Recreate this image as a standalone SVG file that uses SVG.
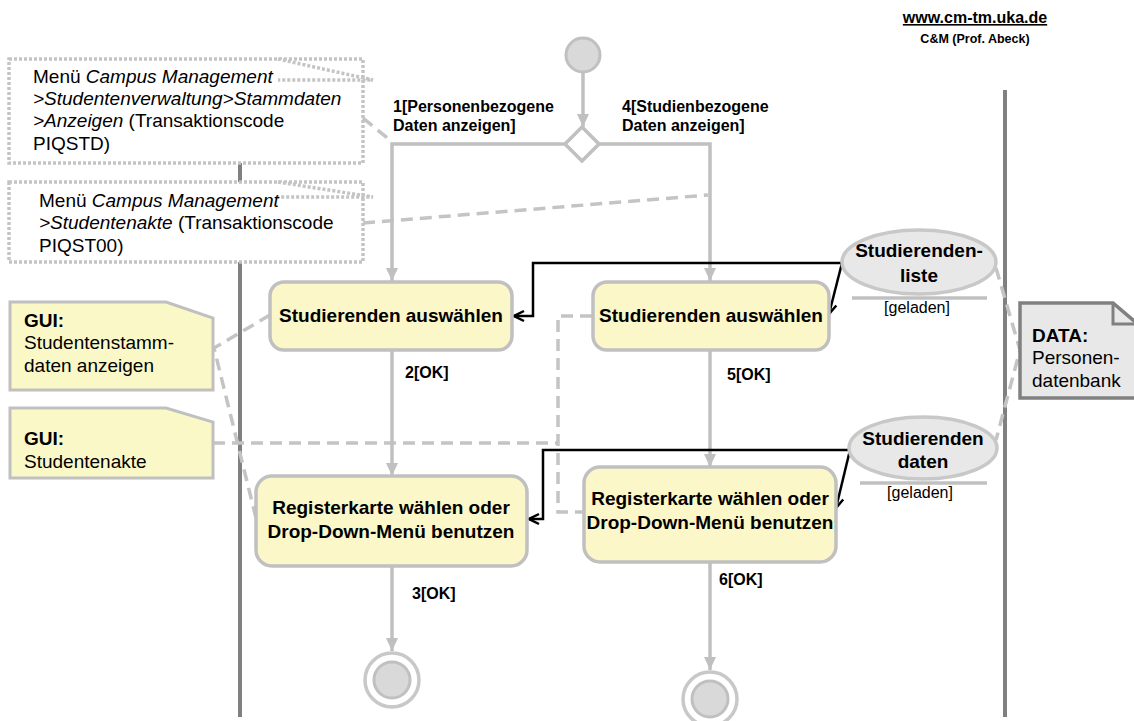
<svg xmlns="http://www.w3.org/2000/svg" width="1134" height="721" viewBox="0 0 1134 721">
<style>
text{font-family:"Liberation Sans",Arial,sans-serif;fill:#000}
.t19{font-size:19px}
.b19{font-size:19px;font-weight:bold}
.b16{font-size:16px;font-weight:bold}
.r16{font-size:16px}
.act{fill:#fbf7c8;stroke:#c0c0c0;stroke-width:3.5}
.note{fill:#fbf8c8;stroke:#c0c0c0;stroke-width:3}
.call{fill:#fff;stroke:#c4c4c4;stroke-width:3.5;stroke-dasharray:3 2}
.flow{fill:none;stroke:#c0c0c0;stroke-width:3.5}
.obj{fill:none;stroke:#000;stroke-width:2.5}
.dash{fill:none;stroke:#c4c4c4;stroke-width:3.5;stroke-dasharray:12 7}
.lane{stroke:#808080;stroke-width:4}
.oval{fill:#e8e8e8;stroke:#c8c8c8;stroke-width:3.5}
</style>
<defs>
<marker id="ga" markerUnits="userSpaceOnUse" markerWidth="14" markerHeight="14" refX="13" refY="7" orient="auto">
<path d="M0,1 L13,7 L0,13 z" fill="#c0c0c0"/>
</marker>
<marker id="ba" markerUnits="userSpaceOnUse" markerWidth="14" markerHeight="14" refX="12" refY="7" orient="auto">
<path d="M2,2 L12,7 L2,12" fill="none" stroke="#000" stroke-width="2.5"/>
</marker>
</defs>

<g id="header">
<text x="975" y="23" text-anchor="middle" text-decoration="underline" style="font-size:16px;font-weight:bold">www.cm-tm.uka.de</text>
<text x="975" y="43" text-anchor="middle" style="font-size:12.5px;font-weight:bold">C&amp;M (Prof. Abeck)</text>
</g>

<g id="swimlanes">
<line class="lane" x1="240" y1="90" x2="240" y2="717"/>
<line class="lane" x1="1005" y1="90" x2="1005" y2="717"/>
</g>

<g id="callout1">
<rect class="call" x="9" y="59" width="354" height="104"/>
<path class="call" d="M278,59 L373,80 L278,80"/>
<text class="t19" x="33" y="83">Menü <tspan font-style="italic">Campus Management</tspan></text>
<text class="t19" x="33" y="105" font-style="italic">&gt;Studentenverwaltung&gt;Stammdaten</text>
<text class="t19" x="33" y="127"><tspan font-style="italic">&gt;Anzeigen</tspan> (Transaktionscode</text>
<text class="t19" x="33" y="150">PIQSTD)</text>
</g>

<g id="callout2">
<rect class="call" x="9" y="182" width="354" height="80"/>
<path class="call" d="M278,182 L373,197 L278,197"/>
<text class="t19" x="39" y="207">Menü <tspan font-style="italic">Campus Management</tspan></text>
<text class="t19" x="39" y="229"><tspan font-style="italic">&gt;Studentenakte</tspan> (Transaktionscode</text>
<text class="t19" x="39" y="252">PIQST00)</text>
</g>

<g id="connectors">
<path class="dash" d="M363,118 L391,141"/>
<path class="dash" d="M363,223 L708,195"/>
<path class="dash" d="M270,315 L214,348 L256,518"/>
<path class="dash" d="M213,443 H558"/>
<path class="dash" d="M592,316 H558 V512 H584"/>
<path class="dash" d="M996,268 L1020,350 L996,440"/>
<path class="flow" d="M583,73 V127" marker-end="url(#ga)"/>
<path class="flow" d="M565,144 H392 V281" marker-end="url(#ga)"/>
<path class="flow" d="M599,144 H710 V281" marker-end="url(#ga)"/>
<path class="flow" d="M392,350 V476" marker-end="url(#ga)"/>
<path class="flow" d="M710,350 V467" marker-end="url(#ga)"/>
<path class="flow" d="M392,566 V651" marker-end="url(#ga)"/>
<path class="flow" d="M710,562 V670" marker-end="url(#ga)"/>
<path class="obj" d="M842,263 H533 V316 H514" marker-end="url(#ba)"/>
<path class="obj" d="M842,263 L829,314" marker-end="url(#ba)"/>
<path class="obj" d="M850,450 H543 V519 H529" marker-end="url(#ba)"/>
<path class="obj" d="M850,450 L836,508" marker-end="url(#ba)"/>
<text class="b16" x="393" y="112">1[Personenbezogene</text>
<text class="b16" x="393" y="131">Daten anzeigen]</text>
<text class="b16" x="622" y="112">4[Studienbezogene</text>
<text class="b16" x="622" y="131">Daten anzeigen]</text>
<text class="b16" x="405" y="378">2[OK]</text>
<text class="b16" x="727" y="380">5[OK]</text>
<text class="b16" x="412" y="599">3[OK]</text>
<text class="b16" x="719" y="585">6[OK]</text>
</g>

<g id="start">
<circle cx="583" cy="55" r="17" fill="#d9d9d9" stroke="#c0c0c0" stroke-width="3"/>
</g>

<g id="decision">
<polygon points="582,127 599,144 582,161 565,144" fill="#fff" stroke="#c0c0c0" stroke-width="3.5"/>
</g>

<g id="act1">
<rect class="act" x="270" y="282" width="242" height="68" rx="14"/>
<text class="b19" x="391" y="322" text-anchor="middle">Studierenden auswählen</text>
</g>

<g id="act2">
<rect class="act" x="593" y="282" width="236" height="68" rx="14"/>
<text class="b19" x="711" y="322" text-anchor="middle">Studierenden auswählen</text>
</g>

<g id="act3">
<rect class="act" x="256" y="476" width="271" height="90" rx="16"/>
<text class="b19" x="391" y="514" text-anchor="middle">Registerkarte wählen oder</text>
<text class="b19" x="391" y="538" text-anchor="middle">Drop-Down-Menü benutzen</text>
</g>

<g id="act4">
<rect class="act" x="584" y="467" width="252" height="95" rx="16"/>
<text class="b19" x="710" y="505" text-anchor="middle">Registerkarte wählen oder</text>
<text class="b19" x="710" y="529" text-anchor="middle">Drop-Down-Menü benutzen</text>
</g>

<g id="end1">
<circle cx="392" cy="680" r="27" fill="#fff" stroke="#c8c8c8" stroke-width="3.5"/>
<circle cx="392" cy="680" r="18" fill="#d9d9d9" stroke="#c0c0c0" stroke-width="3"/>
</g>

<g id="end2">
<circle cx="710" cy="699" r="27" fill="#fff" stroke="#c8c8c8" stroke-width="3.5"/>
<circle cx="710" cy="699" r="18" fill="#d9d9d9" stroke="#c0c0c0" stroke-width="3"/>
</g>

<g id="obj1">
<ellipse class="oval" cx="919" cy="262" rx="77" ry="32"/>
<text class="b19" x="919" y="257" text-anchor="middle">Studierenden-</text>
<text class="b19" x="919" y="282" text-anchor="middle">liste</text>
<line x1="852" y1="298" x2="987" y2="298" stroke="#c0c0c0" stroke-width="3.5"/>
<text class="r16" x="917" y="313" text-anchor="middle">[geladen]</text>
</g>

<g id="obj2">
<ellipse class="oval" cx="923" cy="448" rx="74" ry="31"/>
<text class="b19" x="923" y="445" text-anchor="middle">Studierenden</text>
<text class="b19" x="923" y="468" text-anchor="middle">daten</text>
<line x1="860" y1="483" x2="987" y2="483" stroke="#c0c0c0" stroke-width="3.5"/>
<text class="r16" x="920" y="498" text-anchor="middle">[geladen]</text>
</g>

<g id="gui1">
<path class="note" d="M10,302 H166 L213,318 V390 H10 Z"/>
<text class="b19" x="24" y="327">GUI:</text>
<text class="t19" x="24" y="349">Studentenstamm-</text>
<text class="t19" x="24" y="372">daten anzeigen</text>
</g>

<g id="gui2">
<path class="note" d="M10,408 H166 L213,422 V478 H10 Z"/>
<text class="b19" x="24" y="445">GUI:</text>
<text class="t19" x="24" y="468">Studentenakte</text>
</g>

<g id="data">
<path d="M1020,303 H1113 L1140,326 V398 H1020 Z" fill="#e8e8e8" stroke="#808080" stroke-width="3.5"/>
<path d="M1113,303 V324 H1140" fill="none" stroke="#808080" stroke-width="3"/>
<text class="b19" x="1032" y="342">DATA:</text>
<text class="t19" x="1032" y="364">Personen-</text>
<text class="t19" x="1032" y="387">datenbank</text>
</g>
</svg>
